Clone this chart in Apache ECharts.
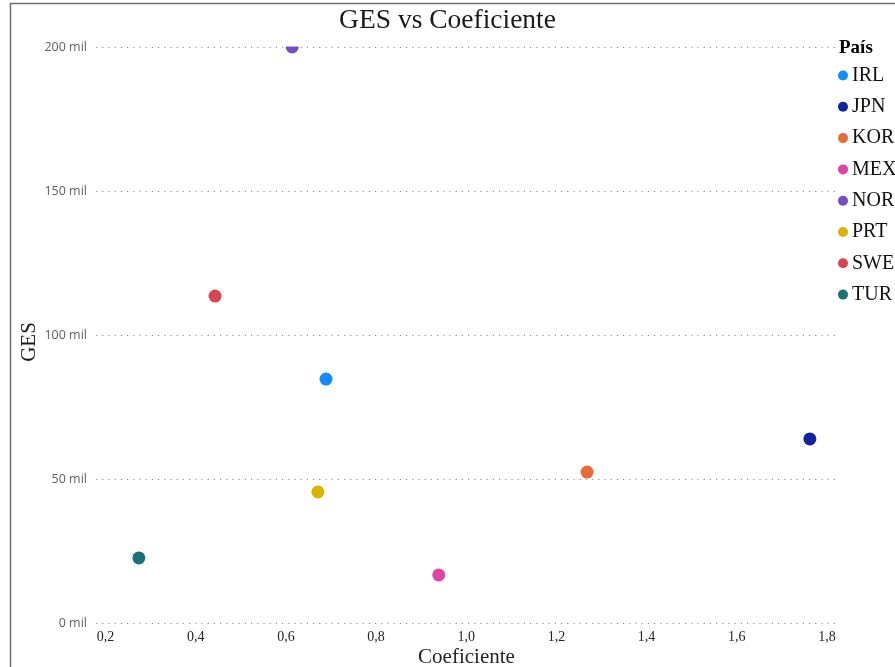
<!DOCTYPE html>
<html>
<head>
<meta charset="utf-8">
<script src="https://cdn.jsdelivr.net/npm/echarts@6/dist/echarts.min.js"></script>
<style>
  html, body { margin: 0; padding: 0; background: #fff; }
  #chart { width: 895px; height: 667px; }
</style>
</head>
<body>
<div id="chart"></div>
<script>
// Países y sus valores (coeficiente, GES)
const countries = ['IRL', 'JPN', 'KOR', 'MEX', 'NOR', 'PRT', 'SWE', 'TUR'];
const coeficiente = [0.689, 1.762, 1.268, 0.939, 0.614, 0.671, 0.443, 0.274];
const ges = [84700, 63900, 52400, 16700, 200000, 45500, 113500, 22600];
const colors = ['#118DFF', '#12239E', '#E66C37', '#E044A7', '#744EC2', '#D9B300', '#D64550', '#197278'];
const xTicks = [0.2, 0.4, 0.6, 0.8, 1.0, 1.2, 1.4, 1.6, 1.8];

const serif = '"Liberation Serif", "DejaVu Serif", serif';
const sans = '"Open Sans", "Noto Sans", sans-serif';

const chart = echarts.init(document.getElementById('chart'), null, { renderer: 'canvas' });

const series = countries.map((c, i) => ({
  name: c,
  type: 'scatter',
  symbol: 'circle',
  symbolSize: 13,
  itemStyle: { color: colors[i], opacity: 1 },
  data: [[coeficiente[i], ges[i]]],
  z: 3
}));

chart.setOption({
  animation: false,
  color: colors,
  title: {
    text: 'GES vs Coeficiente',
    left: 'center',
    top: 2,
    textStyle: { fontFamily: serif, fontSize: 27.5, fontWeight: 'normal', color: '#1a1a1a' }
  },
  grid: { left: 96, right: 58, top: 47, bottom: 44, containLabel: false, outerBoundsMode: 'none' },
  xAxis: {
    type: 'value',
    min: 0.1789,
    max: 1.8222,
    name: 'Coeficiente',
    nameLocation: 'middle',
    nameGap: 24,
    nameMoveOverlap: false,
    nameTextStyle: { fontFamily: serif, fontSize: 21, color: '#252423' },
    axisLine: { show: false },
    axisTick: { show: false },
    splitLine: { show: false },
    axisLabel: {
      customValues: xTicks,
      margin: 7,
      fontFamily: serif,
      fontSize: 14,
      color: '#252423',
      formatter: v => v.toFixed(1).replace('.', ',')
    }
  },
  yAxis: {
    type: 'value',
    min: 0,
    max: 200000,
    interval: 50000,
    name: 'GES',
    nameLocation: 'middle',
    nameGap: 56,
    nameMoveOverlap: false,
    nameTextStyle: { fontFamily: serif, fontSize: 21, color: '#1a1a1a', padding: [0, 14, 0, 0] },
    axisLine: { show: false },
    axisTick: { show: false },
    axisLabel: {
      margin: 9,
      fontFamily: sans,
      fontSize: 12.5,
      color: '#605E5C',
      formatter: v => (v / 1000) + ' mil'
    },
    splitLine: {
      show: true,
      lineStyle: { color: '#8f8f8f', width: 1, type: [1.2, 5] }
    }
  },
  legend: {
    orient: 'vertical',
    left: 833,
    top: 60,
    icon: 'circle',
    itemWidth: 10,
    itemHeight: 10,
    itemGap: 10.3,
    textStyle: { fontFamily: serif, fontSize: 20, lineHeight: 21, color: '#111111', padding: [0, 0, 0, -1] },
    data: countries
  },
  graphic: [
    {
      type: 'rect',
      shape: { x: 10.5, y: 3.5, width: 2000, height: 2000 },
      style: { fill: 'none', stroke: '#6e6e6e', lineWidth: 1.5 },
      silent: true,
      z: 0
    },
    {
      // recorta la parte del marcador que sobresale del área de trazado
      type: 'rect',
      shape: { x: 270, y: 34, width: 45, height: 12.5 },
      style: { fill: '#ffffff' },
      silent: true,
      z: 50
    },
    {
      type: 'text',
      left: 839,
      top: 39,
      style: { text: 'País', font: 'bold 19px ' + serif, fill: '#000000' },
      z: 60
    }
  ],
  series: series
});
</script>
</body>
</html>
